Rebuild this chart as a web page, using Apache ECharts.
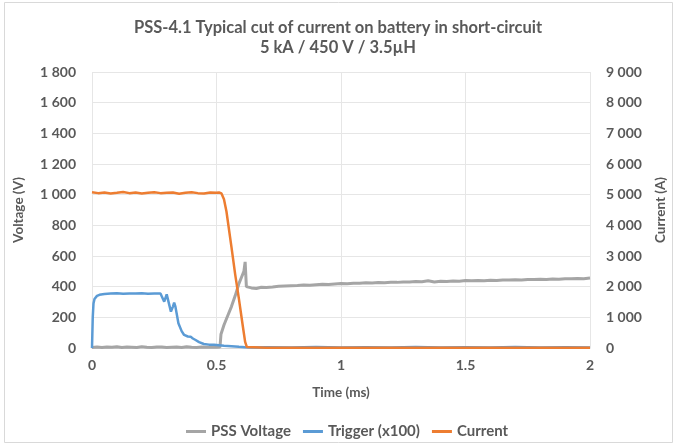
<!DOCTYPE html>
<html>
<head>
<meta charset="utf-8">
<script src="https://cdn.jsdelivr.net/npm/echarts@6/dist/echarts.min.js"></script>
<style>html,body{margin:0;padding:0;background:#fff}#c{width:676px;height:446px}</style>
</head>
<body>
<div id="c"></div>
<script>
// ---- Data ----
var xTicks = [0, 0.5, 1, 1.5, 2];
var voltageTicks = [0, 200, 400, 600, 800, 1000, 1200, 1400, 1600, 1800];
var currentTicks = [0, 1000, 2000, 3000, 4000, 5000, 6000, 7000, 8000, 9000];

// PSS Voltage (V)
var timeV = [0, 0.02, 0.04, 0.06, 0.08, 0.1, 0.12, 0.14, 0.16, 0.18, 0.2, 0.22, 0.24, 0.26, 0.28, 0.3, 0.32, 0.34, 0.36, 0.38, 0.4, 0.42, 0.44, 0.46, 0.48, 0.5, 0.514,
  0.518, 0.53, 0.545, 0.56, 0.575, 0.59, 0.6, 0.61, 0.615, 0.62, 0.625, 0.64, 0.66, 0.68, 0.7, 0.725, 0.75, 0.775, 0.8, 0.825, 0.85, 0.875, 0.9, 0.925, 0.95, 0.975, 1,
  1.025, 1.05, 1.075, 1.1, 1.125, 1.15, 1.175, 1.2, 1.225, 1.25, 1.275, 1.3, 1.325, 1.35, 1.375, 1.4, 1.425, 1.45, 1.475, 1.5, 1.525, 1.55, 1.575, 1.6, 1.625, 1.65,
  1.675, 1.7, 1.725, 1.75, 1.775, 1.8, 1.825, 1.85, 1.875, 1.9, 1.925, 1.95, 1.975, 2];
var voltage = [4, 6, 3, 7, 5, 8, 4, 6, 5, 3, 9, 5, 4, 6, 7, 4, 5, 6, 3, 8, 5, 4, 6, 5, 7, 5, 6,
  90, 150, 210, 270, 340, 420, 460, 500, 562, 400, 388, 392, 388, 396, 395, 398, 402, 404, 406, 408, 411, 409, 413, 415, 414, 418, 421,
  419, 423, 422, 425, 424, 427, 426, 429, 428, 431, 430, 433, 432, 438, 431, 435, 434, 437, 436, 440, 438, 441, 439, 442, 441, 444,
  443, 445, 444, 447, 446, 448, 447, 450, 449, 452, 451, 453, 452, 456];

// Trigger (x100), plotted on voltage axis
var timeT = [0, 0.003, 0.006, 0.01, 0.02, 0.03, 0.05, 0.075, 0.1, 0.125, 0.15, 0.175, 0.2, 0.225, 0.25, 0.275, 0.28, 0.29, 0.3, 0.305, 0.317, 0.325, 0.33, 0.335,
  0.347, 0.36, 0.37, 0.385, 0.396, 0.405, 0.416, 0.43, 0.449, 0.47, 0.49, 0.51, 0.53, 0.56, 0.59, 0.615, 0.64, 0.7, 0.8, 0.9, 1, 1.1, 1.2, 1.3, 1.4, 1.5, 1.6,
  1.7, 1.8, 1.9, 2];
var trigger = [0, 200, 290, 320, 340, 347, 352, 355, 357, 354, 356, 355, 357, 354, 356, 355, 352, 302, 350, 340, 237, 270, 296, 270,
  161, 110, 85, 75, 74, 62, 52, 38, 26, 22, 21, 18, 15, 12, 8, 5, 4, 5, 3, 6, 4, 5, 3, 6, 4, 5, 3,
  6, 4, 5, 4];

// Current (A)
var timeI = [0, 0.025, 0.05, 0.075, 0.1, 0.125, 0.15, 0.175, 0.2, 0.225, 0.25, 0.275, 0.3, 0.325, 0.35, 0.375, 0.4, 0.425, 0.45, 0.475, 0.5, 0.51, 0.52, 0.525,
  0.53, 0.54, 0.56, 0.575, 0.59, 0.605, 0.615, 0.622, 0.63, 0.7, 0.8, 0.9, 1, 1.1, 1.2, 1.3, 1.4, 1.5, 1.6, 1.7, 1.8, 1.9, 2];
var current = [5080, 5050, 5070, 5040, 5060, 5090, 5050, 5070, 5040, 5060, 5080, 5050, 5060, 5070, 5030, 5060, 5080, 5050, 5040, 5070, 5060, 5070, 5040, 5000,
  4850, 4450, 3300, 2400, 1600, 750, 200, 30, 10, 8, 12, 6, 10, 7, 11, 6, 9, 8, 12, 7, 10, 6, 9];

function pairs(t, v) { return t.map(function (x, i) { return [x, v[i]]; }); }
function fmt(v) { return String(v).replace(/\B(?=(\d{3})+(?!\d))/g, ' '); }

var FONT = 'Lato';
var GREY = '#595959';
var chart = echarts.init(document.getElementById('c'), null, { renderer: 'canvas' });
chart.setOption({
  animation: false,
  backgroundColor: '#fff',
  textStyle: { fontFamily: FONT },
  graphic: [{ type: 'rect', shape: { x: 4.5, y: 2.5, width: 668, height: 440 }, style: { fill: 'none', stroke: '#D9D9D9', lineWidth: 1 }, silent: true }],
  title: {
    text: 'PSS-4.1 Typical cut of current on battery in short-circuit\n5 kA / 450 V / 3.5µH',
    left: 'center', top: 13,
    textStyle: { fontFamily: FONT, fontSize: 16.5, fontWeight: 'bold', color: GREY, lineHeight: 20 }
  },
  legend: {
    left: 181, top: 419, itemWidth: 20, itemHeight: 3, itemGap: 12, icon: 'rect',
    textStyle: { fontFamily: FONT, fontSize: 15, fontWeight: 'bold', color: GREY },
    data: ['PSS Voltage', 'Trigger (x100)', 'Current']
  },
  grid: { left: 92, right: 80, top: 72, bottom: 98, containLabel: false },
  xAxis: {
    type: 'value', min: xTicks[0], max: xTicks[xTicks.length - 1], interval: 0.5,
    name: 'Time (ms)', nameLocation: 'middle', nameGap: 38,
    nameTextStyle: { fontFamily: FONT, fontSize: 13.5, fontWeight: 'bold', color: GREY },
    axisLine: { show: true, lineStyle: { color: '#D9D9D9' } },
    axisTick: { show: false },
    axisLabel: { margin: 10, fontFamily: FONT, fontSize: 14, fontWeight: 'bold', color: GREY },
    splitLine: { show: true, lineStyle: { color: '#E6E6E6' } }
  },
  yAxis: [{
    type: 'value', min: voltageTicks[0], max: voltageTicks[voltageTicks.length - 1], interval: 200,
    name: 'Voltage (V)', nameLocation: 'middle', nameGap: 66, nameRotate: 90,
    nameTextStyle: { fontFamily: FONT, fontSize: 13.5, fontWeight: 'bold', color: GREY },
    axisLine: { show: false }, axisTick: { show: false },
    axisLabel: { margin: 16, fontFamily: FONT, fontSize: 14, fontWeight: 'bold', color: GREY, formatter: fmt },
    splitLine: { show: true, lineStyle: { color: '#E6E6E6' } }
  }, {
    type: 'value', min: currentTicks[0], max: currentTicks[currentTicks.length - 1], interval: 1000,
    name: 'Current (A)', nameLocation: 'middle', nameGap: 64, nameRotate: 90,
    nameTextStyle: { fontFamily: FONT, fontSize: 13.5, fontWeight: 'bold', color: GREY },
    axisLine: { show: false }, axisTick: { show: false },
    axisLabel: { margin: 16, fontFamily: FONT, fontSize: 14, fontWeight: 'bold', color: GREY, formatter: fmt },
    splitLine: { show: false }
  }],
  series: [{
    name: 'PSS Voltage', type: 'line', yAxisIndex: 0, showSymbol: false, symbol: 'none',
    data: pairs(timeV, voltage), lineStyle: { color: '#A5A5A5', width: 3 }, itemStyle: { color: '#A5A5A5' }, z: 2
  }, {
    name: 'Trigger (x100)', type: 'line', yAxisIndex: 0, showSymbol: false, symbol: 'none',
    data: pairs(timeT, trigger), lineStyle: { color: '#5B9BD5', width: 2.5 }, itemStyle: { color: '#5B9BD5' }, z: 3
  }, {
    name: 'Current', type: 'line', yAxisIndex: 1, showSymbol: false, symbol: 'none',
    data: pairs(timeI, current), lineStyle: { color: '#ED7D31', width: 2.5 }, itemStyle: { color: '#ED7D31' }, z: 4
  }]
});
</script>
</body>
</html>
